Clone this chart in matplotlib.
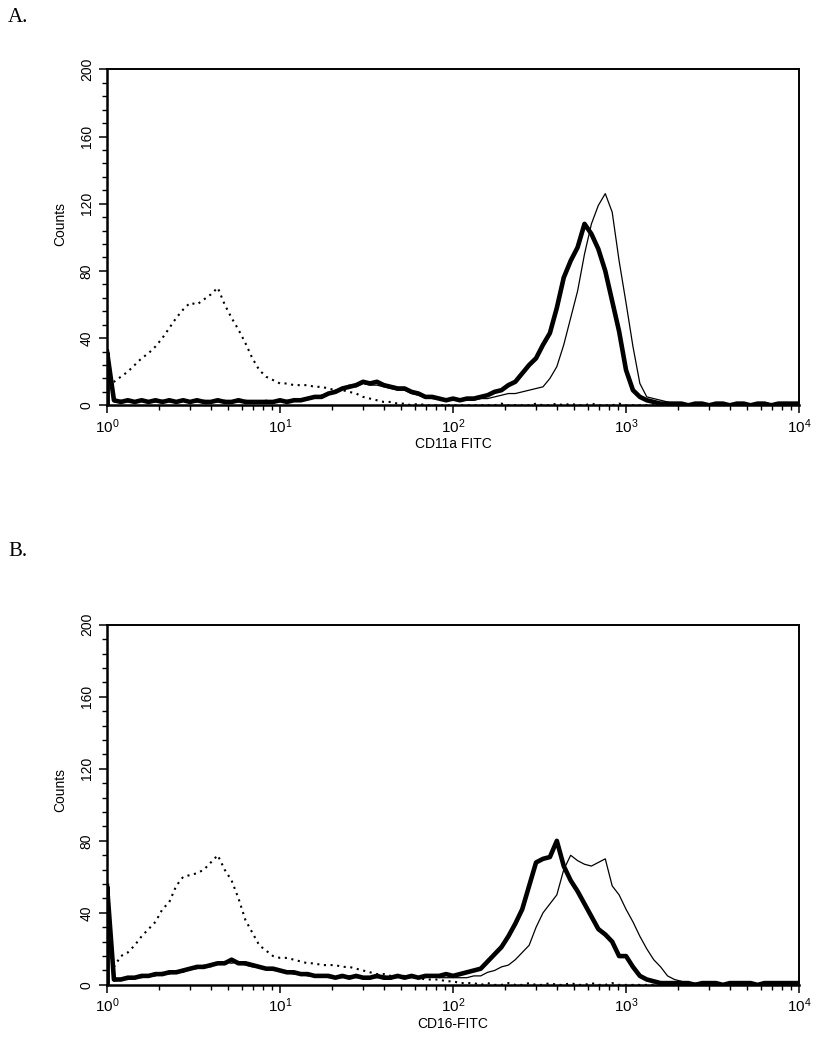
# Flow cytometry histograms, panels A (CD11a FITC) and B (CD16-FITC)
import matplotlib.pyplot as plt
import numpy as np
from matplotlib.ticker import FixedLocator, NullFormatter

plt.rcParams['font.family'] = ['Liberation Sans', 'DejaVu Sans']
plt.rcParams['mathtext.default'] = 'regular'

# channel positions, in decades (0.04 decade bins from 10^0 to 10^4)
log_pos = np.arange(101) * 0.04
x_vals = 10 ** log_pos

# ---- Panel A data (counts) ----
a_isotype = [13, 14, 17, 20, 24, 28, 31, 35, 40, 46, 52, 57, 61, 60, 63, 66, 70, 60, 52, 45,
             37, 28, 21, 17, 15, 13, 13, 12, 12, 12, 11, 11, 10, 9, 9, 8, 7, 5, 4, 3,
             2, 2, 1, 1, 0, 1, 0, 0, 0, 0, 0, 0, 0, 0, 0, 0, 0, 1, 0, 0,
             0, 0, 1, 0, 0, 1, 0, 1, 0, 0, 1, 0, 0, 0, 1, 0, 0, 0, 0, 0,
             0, 0, 0, 0, 0, 0, 0, 0, 0, 0, 0, 0, 0, 0, 0, 0, 0, 0, 0, 0, 0]
a_thick = [32, 3, 2, 3, 2, 3, 2, 3, 2, 3, 2, 3, 2, 3, 2, 2, 3, 2, 2, 3,
           2, 2, 2, 2, 2, 3, 2, 3, 3, 4, 5, 5, 7, 8, 10, 11, 12, 14, 13, 14,
           12, 11, 10, 10, 8, 7, 5, 5, 4, 3, 4, 3, 4, 4, 5, 6, 8, 9, 12, 14,
           19, 24, 28, 36, 43, 58, 76, 86, 94, 108, 102, 93, 80, 62, 44, 21, 9, 5, 3, 2,
           1, 1, 1, 1, 0, 1, 1, 0, 1, 1, 0, 1, 1, 0, 1, 1, 0, 1, 1, 1, 1]
a_thin = [30, 2, 3, 2, 2, 3, 2, 2, 3, 2, 2, 3, 2, 2, 3, 2, 2, 3, 2, 2,
          3, 2, 2, 3, 2, 2, 3, 3, 4, 4, 5, 6, 7, 9, 10, 12, 11, 13, 12, 12,
          11, 10, 9, 9, 7, 6, 5, 4, 4, 3, 3, 3, 3, 3, 4, 4, 5, 6, 7, 7,
          8, 9, 10, 11, 16, 23, 36, 52, 68, 90, 108, 119, 126, 115, 86, 61, 35, 13, 5, 4,
          3, 2, 1, 1, 1, 0, 1, 0, 0, 1, 0, 0, 1, 0, 0, 0, 0, 0, 0, 0, 0]

# ---- Panel B data ----
b_isotype = [10, 10, 16, 18, 22, 27, 31, 35, 42, 46, 55, 60, 61, 62, 64, 68, 72, 64, 58, 48,
             36, 29, 22, 19, 16, 15, 15, 14, 13, 12, 12, 11, 11, 11, 10, 10, 9, 8, 7, 6,
             6, 5, 5, 5, 4, 4, 3, 3, 3, 2, 2, 1, 1, 1, 0, 1, 0, 0, 1, 0,
             0, 1, 0, 0, 1, 0, 0, 1, 0, 0, 1, 0, 0, 1, 0, 0, 0, 0, 0, 0,
             0, 0, 0, 0, 0, 0, 0, 0, 0, 0, 0, 0, 0, 0, 0, 0, 0, 0, 0, 0, 0]
b_thick = [55, 3, 3, 4, 4, 5, 5, 6, 6, 7, 7, 8, 9, 10, 10, 11, 12, 12, 14, 12,
           12, 11, 10, 9, 9, 8, 7, 7, 6, 6, 5, 5, 5, 4, 5, 4, 5, 4, 4, 5,
           4, 4, 5, 4, 5, 4, 5, 5, 5, 6, 5, 6, 7, 8, 9, 13, 17, 21, 27, 34,
           42, 55, 68, 70, 71, 80, 66, 58, 52, 45, 38, 31, 28, 24, 16, 16, 10, 5, 3, 2,
           1, 1, 1, 1, 1, 0, 1, 1, 1, 0, 1, 1, 1, 1, 0, 1, 1, 1, 1, 1, 1]
b_thin = [50, 2, 3, 3, 4, 4, 5, 5, 7, 6, 8, 7, 9, 9, 11, 10, 12, 13, 12, 13,
          11, 10, 10, 9, 8, 8, 7, 6, 6, 5, 5, 5, 4, 4, 4, 5, 4, 4, 4, 4,
          5, 4, 4, 5, 4, 4, 4, 5, 4, 4, 4, 4, 4, 5, 5, 7, 8, 10, 11, 14,
          18, 22, 32, 40, 45, 50, 64, 72, 69, 67, 66, 68, 70, 55, 50, 42, 35, 27, 20, 14,
          10, 5, 3, 2, 1, 1, 1, 0, 1, 0, 1, 0, 0, 1, 0, 0, 0, 0, 0, 0, 0]

panels = [
    ('A.', 'CD11a FITC', a_isotype, a_thick, a_thin, [0.131, 0.614, 0.847, 0.320], 1 - 18 / 1050),
    ('B.', 'CD16-FITC', b_isotype, b_thick, b_thin, [0.131, 0.062, 0.847, 0.343], 1 - 551 / 1050),
]

fig = plt.figure(figsize=(8.17, 10.5), dpi=100)

for tag, xlab, iso, thick, thin, rect, tag_y in panels:
    ax = fig.add_axes(rect)
    ax.set_xscale('log')

    ax.plot(x_vals, iso, color='black', lw=1.5, ls=(0, (1, 2.2)))
    ax.plot(x_vals, thin, color='black', lw=0.9)
    ax.plot(x_vals, thick, color='black', lw=3.3)
    # first-channel pile-up bar at the left edge
    ax.vlines(1.0, 0, thick[0], color='black', lw=3.5)

    ax.set_xlim(1, 1e4)
    ax.set_ylim(0, 200)

    # x ticks: decades with 10^n labels, minor at 2..9
    ax.xaxis.set_major_locator(FixedLocator([1, 10, 100, 1000, 10000]))
    ax.set_xticklabels(['$10^{0}$', '$10^{1}$', '$10^{2}$', '$10^{3}$', '$10^{4}$'])
    minors = [m * 10 ** d for d in range(4) for m in range(2, 10)]
    ax.xaxis.set_minor_locator(FixedLocator(minors))
    ax.xaxis.set_minor_formatter(NullFormatter())

    # y ticks
    ax.set_yticks(np.arange(0, 201, 40))
    ax.yaxis.set_minor_locator(FixedLocator(np.arange(0, 201, 8)))
    for lbl in ax.get_yticklabels():
        lbl.set_rotation(90)
        lbl.set_va('center')

    ax.tick_params(axis='both', which='major', direction='out', length=5.5, width=1.1,
                   labelsize=10, color='black')
    ax.tick_params(axis='x', which='major', labelsize=11, pad=3)
    ax.tick_params(axis='both', which='minor', direction='out', length=3.5, width=1.0)
    ax.tick_params(axis='y', which='major', pad=4)

    for side in ['left', 'bottom']:
        ax.spines[side].set_linewidth(1.8)
    for side in ['top', 'right']:
        ax.spines[side].set_linewidth(1.4)

    ax.set_xlabel(xlab, fontsize=10, labelpad=1)
    ax.set_ylabel('Counts', fontsize=10)
    ax.yaxis.set_label_coords(-0.057, 0.54)

    fig.text(0.01, tag_y, tag, fontsize=15, family=['Liberation Serif', 'DejaVu Serif'],
             va='center', ha='left')

fig.savefig('out.png', dpi=100)
